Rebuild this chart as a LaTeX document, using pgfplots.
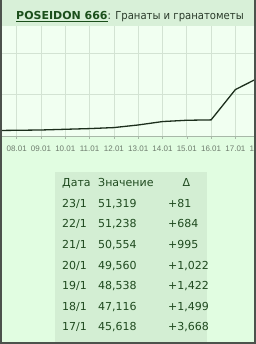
\documentclass[border=0pt]{standalone}
\usepackage{fontspec}
\setmainfont{DejaVu Sans}
\newfontfamily\tickfont{Liberation Sans}
\usepackage{pgfplots}
\pgfplotsset{compat=1.18}
\definecolor{outerbg}{HTML}{E1FDE1}
\definecolor{plotbg}{HTML}{F1FFF1}
\definecolor{titlebg}{HTML}{D8F0D8}
\definecolor{tablebg}{HTML}{D3EED3}
\definecolor{gridcol}{HTML}{D3E3D3}
\definecolor{axiscol}{HTML}{A8B8A8}
\definecolor{linecol}{HTML}{1C2E1C}
\definecolor{tickcol}{HTML}{6E7C6E}
\definecolor{txtcol}{HTML}{1F4A1F}
\definecolor{linkcol}{HTML}{1B4F1B}
\definecolor{titletxt}{HTML}{2A3A2A}
\definecolor{framecol}{HTML}{4C524C}
\pgfplotstableread{
day value
7  40660
8  40690
9  40727
10 40812
11 40897
12 41018
13 41334
14 41747
15 41904
16 41950
17 45618
18 47116
}\datatable
\begin{document}
\begin{tikzpicture}[x=1pt,y=1pt]
\fill[outerbg] (0,0) rectangle (256,344);
\fill[titlebg] (0,318) rectangle (256,344);
\draw[gridcol!80!black!40, line width=0.6pt] (0,318) -- (256,318);
\begin{axis}[
  at={(0pt,208pt)}, anchor=south west,
  scale only axis, width=259.7pt, height=110pt,
  xmin=7.313, xmax=18.0, ymin=40000, ymax=53314,
  axis background/.style={fill=plotbg},
  separate axis lines,
  axis x line*=bottom, axis y line*=left,
  x axis line style={draw=axiscol, line width=0.6pt, -},
  y axis line style={draw=none},
  xtick={8,...,18},
  xticklabels={08.01,09.01,10.01,11.01,12.01,13.01,14.01,15.01,16.01,17.01,18.01},
  ytick={40000,45000,50000,55000},
  yticklabels={},
  scaled y ticks=false,
  ytick style={draw=none},
  xtick style={draw=axiscol, line width=0.6pt},
  tick align=outside,
  major tick length=3pt,
  grid=major,
  grid style={draw=gridcol, line width=0.7pt},
  xticklabel style={font=\tickfont\fontsize{8}{9}\selectfont, text=tickcol, yshift=-3.5pt},
  clip=true,
]
\addplot[linecol, line width=1.3pt, no markers] table[x=day, y=value] {\datatable};
\end{axis}
% title
\node[anchor=base west, inner sep=0pt, font=\fontsize{11}{13}\selectfont] at (16,324.5)
  {\textcolor{linkcol}{\bfseries\underline{POSEIDON 666}}\textcolor{titletxt}{\scalebox{0.915}[1]{: Гранаты и гранатометы}}};
% table
\fill[tablebg] (55,2) rectangle (207,172);
\begin{scope}[every node/.style={anchor=base west, inner sep=0pt, font=\fontsize{11}{13}\selectfont, text=txtcol}]
\node at (62,157) {Дата};
\node at (98,157) {Значение};
\node[anchor=base] at (186.5,157) {Δ};
\node at (62,136) {23/1}; \node at (98,136) {51,319}; \node at (168,136) {+81};
\node at (62,116) {22/1}; \node at (98,116) {51,238}; \node at (168,116) {+684};
\node at (62,95) {21/1}; \node at (98,95) {50,554}; \node at (168,95) {+995};
\node at (62,74) {20/1}; \node at (98,74) {49,560}; \node at (168,74) {+1,022};
\node at (62,54) {19/1}; \node at (98,54) {48,538}; \node at (168,54) {+1,422};
\node at (62,33) {18/1}; \node at (98,33) {47,116}; \node at (168,33) {+1,499};
\node at (62,13) {17/1}; \node at (98,13) {45,618}; \node at (168,13) {+3,668};
\end{scope}
% frame
\draw[framecol, line width=2pt] (1,344) -- (1,1) -- (255,1) -- (255,344);
\pgfresetboundingbox
\useasboundingbox (0,0) rectangle (256,344);
\end{tikzpicture}
\end{document}
